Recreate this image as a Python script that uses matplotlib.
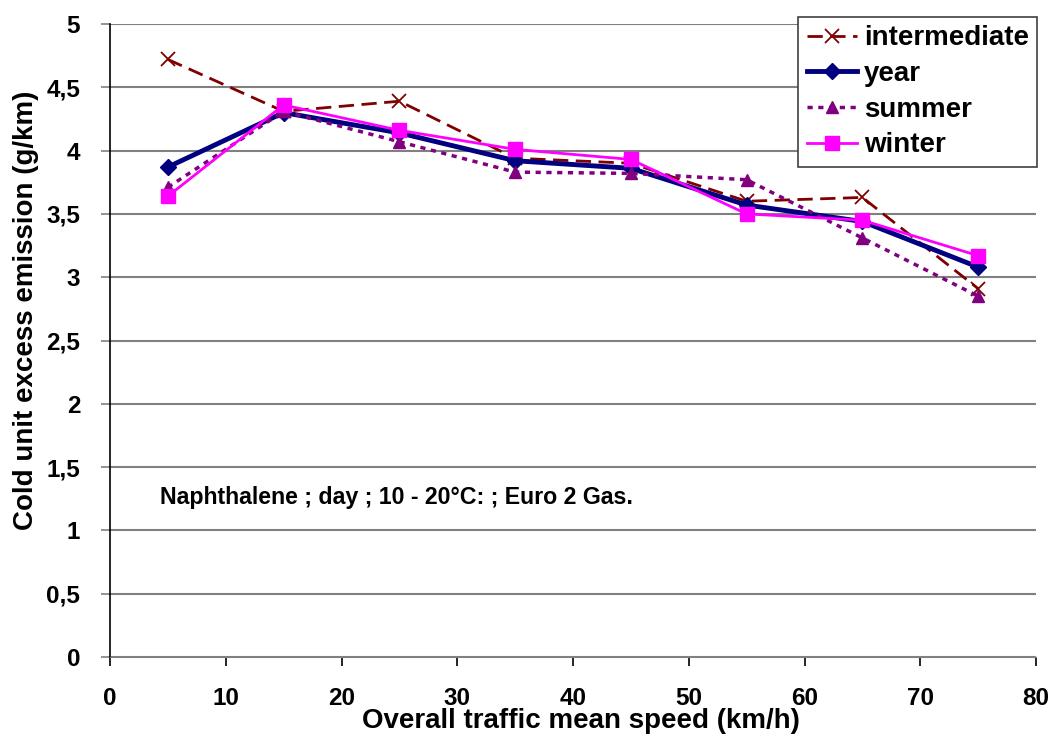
import matplotlib
matplotlib.use("Agg")
import matplotlib.pyplot as plt
from matplotlib.ticker import FuncFormatter

speeds = [5, 15, 25, 35, 45, 55, 65, 75]
intermediate = [4.72, 4.31, 4.39, 3.94, 3.90, 3.60, 3.63, 2.91]
year = [3.87, 4.30, 4.14, 3.92, 3.86, 3.57, 3.44, 3.08]
summer = [3.71, 4.31, 4.07, 3.83, 3.82, 3.77, 3.31, 2.85]
winter = [3.64, 4.36, 4.16, 4.01, 3.93, 3.50, 3.45, 3.17]

plt.rcParams['font.family'] = ['Liberation Sans', 'DejaVu Sans']
plt.rcParams['font.weight'] = 'bold'

fig = plt.figure(figsize=(10.56, 7.4), dpi=100)
ax = fig.add_axes([110 / 1056, 1 - 657 / 740, 926 / 1056, 633 / 740])

ax.plot(speeds, intermediate, color="#800000", linestyle=(0, (5.5, 2.7)), linewidth=2,
        marker="x", markersize=10, markeredgewidth=1.3, label="intermediate")
ax.plot(speeds, year, color="#000080", linewidth=3.5,
        marker="D", markersize=8, label="year")
ax.plot(speeds, summer, color="#800080", linestyle=(0, (1.5, 1.6)), linewidth=2.5,
        marker="^", markersize=9, label="summer")
ax.plot(speeds, winter, color="#ff00ff", linewidth=2,
        marker="s", markersize=9.5, label="winter")

ax.set_xlim(0, 80)
ax.set_ylim(0, 5)
ax.set_xticks(range(0, 81, 10))
ax.set_yticks([0, 0.5, 1, 1.5, 2, 2.5, 3, 3.5, 4, 4.5, 5])
ax.yaxis.set_major_formatter(FuncFormatter(lambda v, p: ("%g" % v).replace(".", ",")))
ax.grid(axis="y", color="#808080", linewidth=1.5)
ax.set_axisbelow(True)
for side in ["top", "right"]:
    ax.spines[side].set_visible(False)
ax.spines["left"].set_linewidth(1.2)
ax.spines["bottom"].set_color("#808080")
ax.axhline(5, color="black", linewidth=1.2, zorder=0)
ax.tick_params(axis="x", direction="out", length=6.5, width=1.2, pad=15, labelsize=17.5)
ax.tick_params(axis="y", direction="out", length=6.5, width=1.2, color="#808080", pad=15, labelsize=17.5)
for lbl in ax.get_xticklabels() + ax.get_yticklabels():
    lbl.set_fontweight("bold")

ax.set_xlabel("Overall traffic mean speed (km/h)", fontsize=20, fontweight="bold")
ax.set_ylabel("Cold unit excess emission (g/km)", fontsize=20, fontweight="bold")
ax.xaxis.set_label_coords(0.509, -0.081)
ax.yaxis.set_label_coords(-0.077, 0.548)

ax.text(4.35, 1.26, "Naphthalene ; day ; 10 - 20°C: ; Euro 2 Gas.",
        fontsize=16.7, fontweight="bold", va="center", ha="left")

leg = fig.legend(loc="upper right", bbox_to_anchor=(1037 / 1056, 1 - 17 / 740),
                 fancybox=False, edgecolor="#404040", framealpha=1,
                 prop={"size": 20, "weight": "bold"}, handlelength=1.8,
                 labelspacing=0.35, borderpad=0.3, handletextpad=0.25, borderaxespad=0)
leg.get_frame().set_linewidth(1.2)

fig.savefig("out.png", dpi=100)
